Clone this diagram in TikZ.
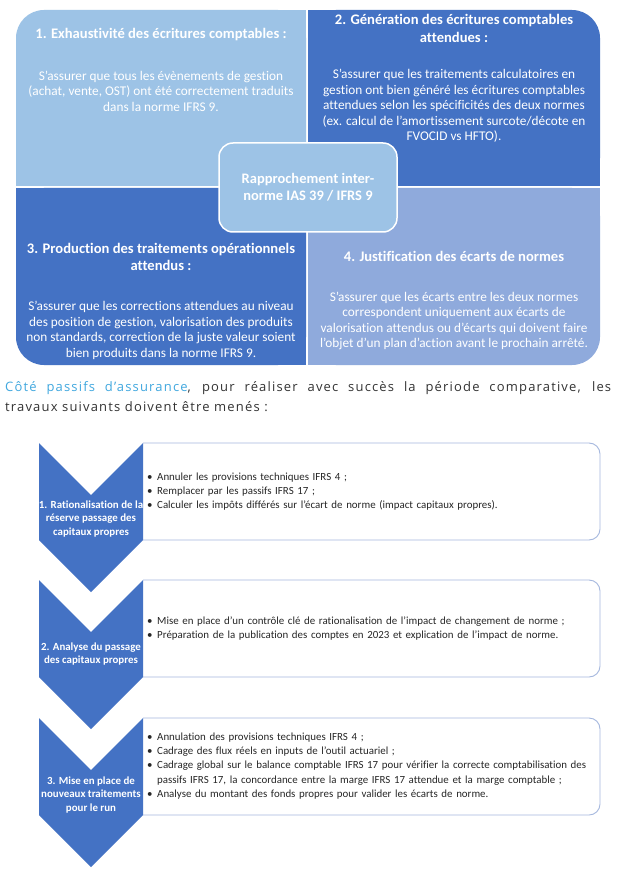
\documentclass[tikz,border=0pt]{standalone}
\usepackage{fontspec}
\setmainfont{Carlito}[Ligatures=NoCommon]
\newfontfamily\parafont{Open Sans}[LetterSpace=9]
\definecolor{qlight}{HTML}{9DC3E6}
\definecolor{qdark}{HTML}{4472C4}
\definecolor{qmid}{HTML}{8FAADC}
\definecolor{bborder}{HTML}{A5B8DE}
\definecolor{pblue}{HTML}{41A8DF}
\definecolor{ptext}{HTML}{333333}
\newcommand\bitem[1]{\hangindent=10pt\hangafter=1\noindent\makebox[10pt][l]{\textbullet}#1\par}
\tikzset{
  qtitle/.style={text=white, align=center, inner sep=0, font=\bfseries\fontsize{14.6}{17.5}\selectfont},
  qbody/.style={text=white, align=center, inner sep=0, font=\fontsize{13.3}{15.5}\selectfont},
  cbox/.style={fill=qlight, draw=white, line width=1.5pt, rounded corners=14pt, text=white, align=center, font=\bfseries\fontsize{14.5}{17}\selectfont, minimum width=178pt, minimum height=89pt},
  bline/.style={draw=bborder, line width=0.9pt, rounded corners=11pt},
  btext/.style={anchor=west, inner sep=0, text width=452pt, align=left, font=\fontsize{10.9}{14.3}\selectfont, text=black!85},
  chevlabel/.style={text=white, align=center, inner sep=0, font=\bfseries\fontsize{10.9}{13.2}\selectfont},
  chev/.style={fill=qdark}
}
\begin{document}
\begin{tikzpicture}[x=1pt,y=-1pt]
\useasboundingbox (0,0) rectangle (618,874);
\fill[white] (0,0) rectangle (618,874);
% quadrants
\fill[qlight,rounded corners=28pt] (16,10) rectangle (306,186);
\fill[qlight] (50,10) rectangle (306,186);
\fill[qlight] (16,45) rectangle (306,186);
\fill[qdark,rounded corners=28pt] (308,10) rectangle (600,186);
\fill[qdark] (308,10) rectangle (566,186);
\fill[qdark] (308,45) rectangle (600,186);
\fill[qdark,rounded corners=28pt] (16,188) rectangle (306,365);
\fill[qdark] (50,188) rectangle (306,365);
\fill[qdark] (16,188) rectangle (306,330);
\fill[qmid,rounded corners=28pt] (308,188) rectangle (600,365);
\fill[qmid] (308,188) rectangle (566,365);
\fill[qmid] (308,188) rectangle (600,330);
% quadrant texts
\node[qtitle] (t1) at (161,35) {1. Exhaustivité des écritures comptables :};
\node[qbody] (b1) at (161,91) {S’assurer que tous les évènements de gestion\\(achat, vente, OST) ont été correctement traduits\\dans la norme IFRS 9.};
\node[qtitle] (t2) at (454,28.5) {2. Génération des écritures comptables\\attendues :};
\node[qbody] (b2) at (454,106) {S’assurer que les traitements calculatoires en\\gestion ont bien généré les écritures comptables\\attendues selon les spécificités des deux normes\\(ex. calcul de l’amortissement surcote/décote en\\FVOCID vs HFTO).};
\node[qtitle] (t3) at (161,257) {3. Production des traitements opérationnels\\attendus :};
\node[qbody] (b3) at (161,330.5) {S’assurer que les corrections attendues au niveau\\des position de gestion, valorisation des produits\\non standards, correction de la juste valeur soient\\bien produits dans la norme IFRS 9.};
\node[qtitle] (t4) at (454,256) {4. Justification des écarts de normes};
\node[qbody] (b4) at (454,321) {S’assurer que les écarts entre les deux normes\\correspondent uniquement aux écarts de\\valorisation attendus ou d’écarts qui doivent faire\\l’objet d’un plan d’action avant le prochain arrêté.};
% center
\node[cbox] (center) at (308,187.5) {Rapprochement inter-\\norme IAS 39 / IFRS 9};
% paragraph
\node[anchor=north west, inner sep=0, text width=606pt, align=justify, font=\parafont\fontsize{13}{20}\selectfont, text=ptext] (para) at (5,381) {\textcolor{pblue}{Côté passifs d’assurance}, pour réaliser avec succès la période comparative, les\linebreak travaux suivants doivent être menés :};
% boxes
\draw[bline] (143,443) -- (600,443) -- (600,540) -- (143,540);
\draw[bline] (143,580) -- (600,580) -- (600,677) -- (143,677);
\draw[bline] (143,718) -- (600,718) -- (600,815) -- (143,815);
\node[btext] (l1) at (147,491.5) {\bitem{Annuler les provisions techniques IFRS 4 ;}\bitem{Remplacer par les passifs IFRS 17 ;}\bitem{Calculer les impôts différés sur l’écart de norme (impact capitaux propres).}};
\node[btext] (l2) at (147,628.5) {\bitem{Mise en place d’un contrôle clé de rationalisation de l’impact de changement de norme ;}\bitem{Préparation de la publication des comptes en 2023 et explication de l’impact de norme.}};
\node[btext] (l3) at (147,766) {\bitem{Annulation des provisions techniques IFRS 4 ;}\bitem{Cadrage des flux réels en inputs de l’outil actuariel ;}\bitem{Cadrage global sur le balance comptable IFRS 17 pour vérifier la correcte comptabilisation des\newline passifs IFRS 17, la concordance entre la marge IFRS 17 attendue et la marge comptable ;}\bitem{Analyse du montant des fonds propres pour valider les écarts de norme.}};
% chevrons
\fill[chev] (39,443) -- (91,495) -- (143,443) -- (143,540) -- (91,592) -- (39,540) -- cycle;
\fill[chev] (39,580) -- (91,632) -- (143,580) -- (143,677) -- (91,729) -- (39,677) -- cycle;
\fill[chev] (39,718) -- (91,770) -- (143,718) -- (143,815) -- (91,867) -- (39,815) -- cycle;
\node[chevlabel] (c1) at (91,519) {1. Rationalisation de la\\réserve passage des\\capitaux propres};
\node[chevlabel] (c2) at (91,654) {2. Analyse du passage\\des capitaux propres};
\node[chevlabel] (c3) at (91,795) {3. Mise en place de\\nouveaux traitements\\pour le run};
\end{tikzpicture}
\end{document}
